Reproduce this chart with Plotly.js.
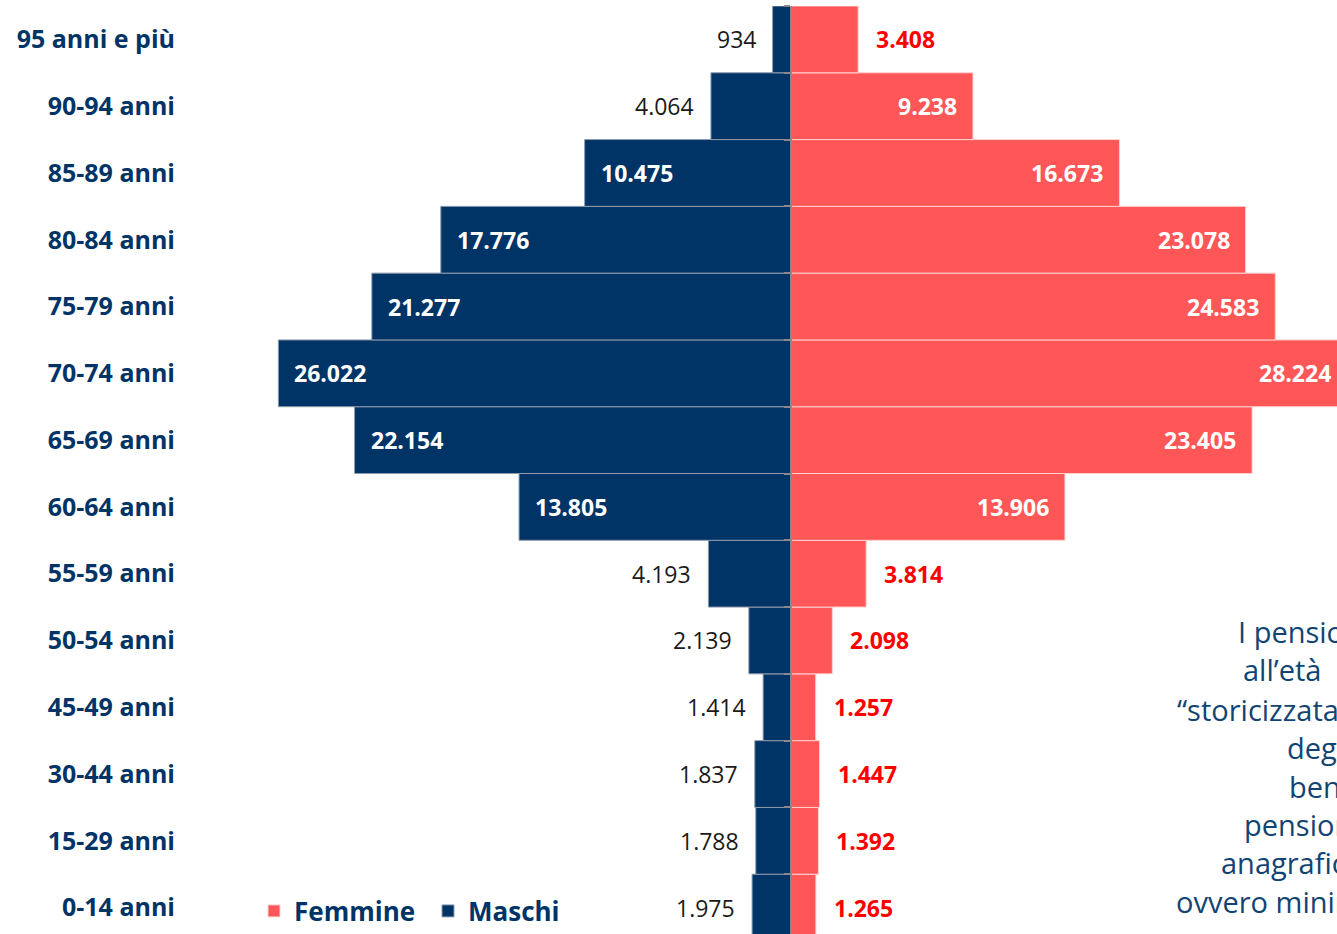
<!DOCTYPE html>
<html>
<head>
<meta charset="utf-8">
<script src="https://cdn.plot.ly/plotly-3.0.1.min.js"></script>
<style>
html, body { margin: 0; padding: 0; overflow: hidden; background: #fff; }
#chart { width: 1420px; height: 960px; }
</style>
</head>
<body>
<div id="chart"></div>
<script>
// Data (bottom -> top)
const categories = ["0-14 anni", "15-29 anni", "30-44 anni", "45-49 anni", "50-54 anni", "55-59 anni",
  "60-64 anni", "65-69 anni", "70-74 anni", "75-79 anni", "80-84 anni", "85-89 anni", "90-94 anni", "95 anni e più"];
const maschi = [1975, 1788, 1837, 1414, 2139, 4193, 13805, 22154, 26022, 21277, 17776, 10475, 4064, 934];
const femmine = [1265, 1392, 1447, 1257, 2098, 3814, 13906, 23405, 28224, 24583, 23078, 16673, 9238, 3408];
const noteLines = ["I pensionati", "all’età", "“storicizzata”", "degli", "beneficiari", "pensione", "anagrafica", "ovvero minima"];

const NAVY = "#003366";
const RED = "#FF5757";
const FONT = "Open Sans, Lato, sans-serif";

const W = 1420, H = 960, ML = 190, MT = 6, MB = 19;
const PW = W - ML, PH = H - MT - MB;
const scale = 0.0197; // px per unit
const zeroPx = 791;
const xmin = -(zeroPx - ML) / scale;
const xmax = (W - zeroPx) / scale;
const fmtIt = v => String(v).replace(/\B(?=(\d{3})+(?!\d))/g, ".");

const traces = [
  {
    type: "bar", orientation: "h", name: "Femmine",
    y: categories, x: femmine,
    xaxis: "x", yaxis: "y2",
    marker: { color: RED, line: { color: "#ffd0d0", width: 1 } },
    width: 1, hoverinfo: "x+y"
  },
  {
    type: "bar", orientation: "h", name: "Maschi",
    y: categories, x: maschi.map(v => -v),
    xaxis: "x", yaxis: "y",
    marker: { color: NAVY, line: { color: "#8e9aab", width: 1 } },
    width: 1, hoverinfo: "y"
  }
];

const annotations = [];
const THRESH = 5000;
categories.forEach((c, i) => {
  const m = maschi[i], f = femmine[i];
  const mIn = m > THRESH, fIn = f > THRESH;
  annotations.push({
    xref: "x", yref: "y", x: -m, y: c, showarrow: false,
    text: mIn ? "<b>" + fmtIt(m) + "</b>" : fmtIt(m),
    xanchor: mIn ? "left" : "right", xshift: mIn ? 14 : -15,
    font: { family: FONT, size: 23, color: mIn ? "#ffffff" : "#1a1a1a" }
  });
  annotations.push({
    xref: "x", yref: "y", x: f, y: c, showarrow: false,
    text: "<b>" + fmtIt(f) + "</b>",
    xanchor: fIn ? "right" : "left", xshift: fIn ? -14 : 16,
    font: { family: FONT, size: 23, color: fIn ? "#ffffff" : "#FF0000" }
  });
});

const noteStarts = [1236, 1241, 1175, 1285, 1287, 1242, 1219, 1174];
const noteY = [632, 669, 709, 747, 786, 824, 862, 901];
noteLines.forEach((t, i) => {
  annotations.push({
    xref: "paper", yref: "paper",
    x: (noteStarts[i] - ML) / PW, y: (MT + PH - noteY[i]) / PH,
    xanchor: "left", yanchor: "middle", showarrow: false, text: t,
    font: { family: FONT, size: 29, color: "#124473" }
  });
});

const layout = {
  width: W, height: H,
  margin: { l: ML, r: 0, t: MT, b: MB, pad: 0 },
  paper_bgcolor: "#ffffff", plot_bgcolor: "#ffffff",
  barmode: "overlay", bargap: 0,
  showlegend: true,
  legend: {
    orientation: "h", x: (254 - ML) / PW, xanchor: "left",
    y: (MT + PH - 911) / PH, yanchor: "middle",
    font: { family: FONT, size: 26, color: NAVY, weight: "bold" },
    traceorder: "normal", itemwidth: 30, entrywidth: 129, entrywidthmode: "pixels",
    bgcolor: "rgba(0,0,0,0)"
  },
  xaxis: {
    range: [xmin, xmax], visible: false, fixedrange: true
  },
  yaxis: {
    type: "category", categoryorder: "array", categoryarray: categories,
    range: [-0.5, categories.length - 0.5],
    showline: false, showgrid: false, zeroline: false, ticks: "",
    ticklabelstandoff: 14,
    tickfont: { family: FONT, size: 25, color: NAVY, weight: "bold" },
    fixedrange: true
  },
  yaxis2: {
    type: "category", categoryorder: "array", categoryarray: categories,
    range: [-0.5, categories.length - 0.5],
    overlaying: "y", anchor: "free", position: (zeroPx - ML) / PW, side: "left",
    showline: true, linecolor: "#8a8a8a", linewidth: 2,
    ticks: "outside", ticklen: 6, tickcolor: "#8a8a8a", tickwidth: 2, tickson: "boundaries",
    showticklabels: false, showgrid: false, zeroline: false, fixedrange: true
  },
  annotations: annotations
};

Plotly.newPlot("chart", traces, layout, { displayModeBar: false, staticPlot: true });
</script>
</body>
</html>
